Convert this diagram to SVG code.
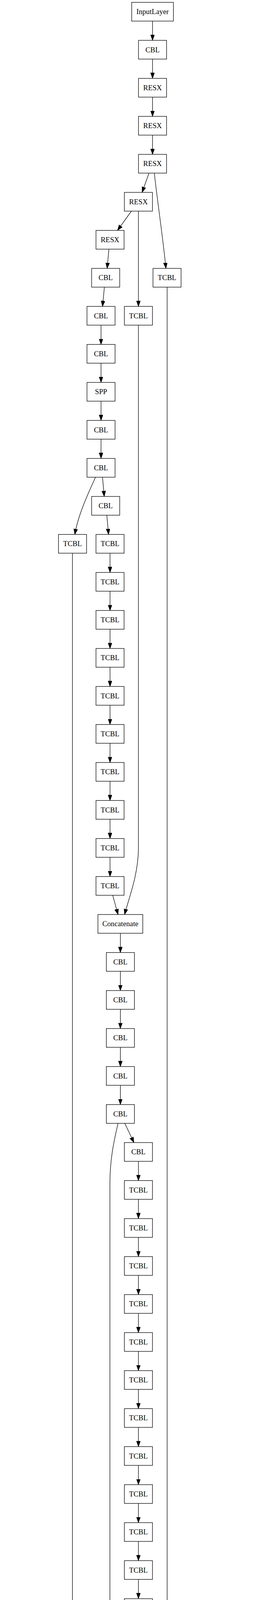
<svg xmlns="http://www.w3.org/2000/svg" width="695" height="7360" viewBox="0 0 695 7360">
<defs>
<style>
.n rect{fill:#fff;stroke:#000;stroke-width:1.3}
.n text{font-family:"Liberation Serif","Times New Roman",serif;font-size:18.7px;text-anchor:middle;fill:#000}
.e path{fill:none;stroke:#000;stroke-width:1.3;marker-end:url(#ah)}
</style>
<marker id="ah" markerUnits="userSpaceOnUse" markerWidth="15" markerHeight="11" refX="14.2" refY="5" orient="auto"><path d="M0,0 L14.2,5 L0,10 z" fill="#000" stroke="#000" stroke-width="1"/></marker>
</defs>
<rect width="695" height="7360" fill="#fff"/>
<g id="edges" class="e">
<path d="M391.2,54 L391.2,103.3"/>
<path d="M391.2,151.3 L391.2,200.6"/>
<path d="M391.2,248.6 L391.2,297.9"/>
<path d="M391.2,345.9 L391.2,395.2"/>
<path d="M382.1,443.2 L364.4,492.5"/>
<path d="M395.8,443.2 C403,510 418,610 425.5,687.1"/>
<path d="M336.9,540.5 L301.4,589.8"/>
<path d="M355,540.5 L355,784.4"/>
<path d="M279.3,637.8 L274.8,687.1"/>
<path d="M267.7,735.1 L262.9,784.4"/>
<path d="M259.1,832.4 L259.1,881.7"/>
<path d="M259.1,929.7 L259.1,979"/>
<path d="M259.1,1027 L259.1,1076.3"/>
<path d="M259.1,1124.3 L259.1,1173.6"/>
<path d="M262.9,1221.6 L267.3,1270.9"/>
<path d="M245.1,1221.6 C225,1265 200,1320 191.9,1368.2"/>
<path d="M273.9,1318.9 L278.4,1368.2"/>
<path d="M282.2,1416.2 L282.2,1465.5"/>
<path d="M282.2,1513.5 L282.2,1562.8"/>
<path d="M282.2,1610.8 L282.2,1660.1"/>
<path d="M282.2,1708.1 L282.2,1757.4"/>
<path d="M282.2,1805.4 L282.2,1854.7"/>
<path d="M282.2,1902.7 L282.2,1952"/>
<path d="M282.2,2000 L282.2,2049.3"/>
<path d="M282.2,2097.3 L282.2,2146.6"/>
<path d="M282.2,2194.6 L282.2,2243.9"/>
<path d="M289,2291.9 L302.7,2341.2"/>
<path d="M355,832.4 L355,2170 C355,2240 330,2300 319.5,2341.2"/>
<path d="M308.7,2389.2 L308.7,2438.5"/>
<path d="M308.7,2486.5 L308.7,2535.8"/>
<path d="M308.7,2583.8 L308.7,2633.1"/>
<path d="M308.7,2681.1 L308.7,2730.4"/>
<path d="M308.7,2778.4 L308.7,2827.7"/>
<path d="M320,2875.7 L343.5,2925"/>
<path d="M302.7,2875.7 C295,2910 281.9,2960 281.9,3030 L281.9,5500 C281.9,5560 296,5610 301.4,5649.4"/>
<path d="M355,2973 L355,3022.3"/>
<path d="M355,3070.3 L355,3119.6"/>
<path d="M355,3167.6 L355,3216.9"/>
<path d="M355,3264.9 L355,3314.2"/>
<path d="M355,3362.2 L355,3411.5"/>
<path d="M355,3459.5 L355,3508.8"/>
<path d="M355,3556.8 L355,3606.1"/>
<path d="M355,3654.1 L355,3703.4"/>
<path d="M355,3751.4 L355,3800.7"/>
<path d="M355,3848.7 L355,3898"/>
<path d="M355,3946 L355,3995.3"/>
<path d="M355,4043.3 L355,4092.6"/>
<path d="M355,4140.6 L355,4189.9"/>
<path d="M355,4237.9 L355,4287.2"/>
<path d="M355,4335.2 L355,4384.5"/>
<path d="M355,4432.5 L355,4481.8"/>
<path d="M355,4529.8 L355,4579.1"/>
<path d="M355,4627.1 L355,4676.4"/>
<path d="M355,4724.4 L355,4773.7"/>
<path d="M355,4821.7 L355,4871"/>
<path d="M367,4919 L390,4968.3"/>
<path d="M428.6,735.1 L428.6,4790 C428.6,4860 415,4925 407,4968.3"/>
<path d="M401.8,5016.3 L401.8,5065.6"/>
<path d="M401.8,5113.6 L401.8,5162.9"/>
<path d="M401.8,5210.9 L401.8,5260.2"/>
<path d="M401.8,5308.2 L401.8,5357.5"/>
<path d="M401.8,5405.5 L401.8,5454.8"/>
<path d="M390,5502.8 L368,5552.1"/>
<path d="M414.5,5502.8 L438.8,5552.1"/>
<path d="M342.6,5600.1 L319.1,5649.4"/>
<path d="M445.5,5600.1 L436.6,5649.4"/>
<path d="M470.7,5600.1 L509.8,5649.4"/>
<path d="M307.2,5697.4 L307.2,5746.7"/>
<path d="M428.2,5697.4 L425.5,5746.7"/>
<path d="M529.3,5697.4 L530.6,5746.7"/>
<path d="M307.2,5794.7 L307.2,5844"/>
<path d="M422.9,5794.7 L419.3,5844"/>
<path d="M531.2,5794.7 L531.2,5844"/>
<path d="M559.4,5794.7 L617,5844"/>
<path d="M307.2,5892 L307.2,5941.3"/>
<path d="M445.5,5892 L504,5941.3"/>
<path d="M531.2,5892 L531.2,5941.3"/>
<path d="M617,5892 L559.4,5941.3"/>
<path d="M307.2,5989.3 L307.2,6038.6"/>
<path d="M307.2,6086.6 L307.2,6135.9"/>
<path d="M295.2,6183.9 L271.3,6233.2"/>
<path d="M319.6,6183.9 L343.5,6233.2"/>
<path d="M246.9,6281.2 L223,6330.5"/>
<path d="M185.7,1416.2 L185.7,6165 C185.7,6230 200,6290 204.8,6330.5"/>
<path d="M350.2,6281.2 L339.1,6330.5"/>
<path d="M374.6,6281.2 L413.6,6330.5"/>
<path d="M211.2,6378.5 L211.2,6427.8"/>
<path d="M332,6378.5 L328.9,6427.8"/>
<path d="M433.5,6378.5 L434.4,6427.8"/>
<path d="M211.2,6475.8 L211.2,6525.1"/>
<path d="M326.2,6475.8 L323.6,6525.1"/>
<path d="M435.3,6475.8 L435.3,6525.1"/>
<path d="M463.7,6475.8 L520.8,6525.1"/>
<path d="M211.2,6573.1 L211.2,6622.4"/>
<path d="M351,6573.1 L406.9,6622.4"/>
<path d="M435.3,6573.1 L435.3,6622.4"/>
<path d="M520.4,6573.1 L463.2,6622.4"/>
<path d="M211.2,6670.4 L211.2,6719.7"/>
<path d="M211.2,6767.7 L211.2,6817"/>
<path d="M211.2,6865 L211.2,6914.3"/>
<path d="M198.6,6962.3 L176,7011.6"/>
<path d="M224.3,6962.3 L250.4,7011.6"/>
<path d="M163.1,7059.6 L163.1,7108.9"/>
<path d="M264.6,7059.6 L266,7108.9"/>
<path d="M134.8,7156.9 L78.5,7206.2"/>
<path d="M163.1,7156.9 L163.1,7206.2"/>
<path d="M270,7156.9 L274.4,7206.2"/>
<path d="M78.9,7254.2 L135.2,7303.5"/>
<path d="M163.1,7254.2 L163.1,7303.5"/>
<path d="M248.2,7254.2 L191.5,7303.5"/>
</g>
<g id="n0" class="n"><rect x="337.7" y="6" width="107" height="48"/><text x="391.2" y="36">InputLayer</text></g>
<g id="n1" class="n"><rect x="355.2" y="103.3" width="72" height="48"/><text x="391.2" y="133.5">CBL</text></g>
<g id="n2" class="n"><rect x="355.2" y="200.6" width="72" height="48"/><text x="391.2" y="230.8">RESX</text></g>
<g id="n3" class="n"><rect x="355.2" y="297.9" width="72" height="48"/><text x="391.2" y="328.1">RESX</text></g>
<g id="n4" class="n"><rect x="355.2" y="395.2" width="72" height="48"/><text x="391.2" y="425.4">RESX</text></g>
<g id="n5" class="n"><rect x="319" y="492.5" width="72" height="48"/><text x="355" y="522.7">RESX</text></g>
<g id="n6" class="n"><rect x="246.2" y="589.8" width="72" height="48"/><text x="282.2" y="620">RESX</text></g>
<g id="n7" class="n"><rect x="392.4" y="687.1" width="72" height="48"/><text x="428.4" y="717.3">TCBL</text></g>
<g id="n8" class="n"><rect x="235" y="687.1" width="72" height="48"/><text x="271" y="717.3">CBL</text></g>
<g id="n9" class="n"><rect x="319" y="784.4" width="72" height="48"/><text x="355" y="814.6">TCBL</text></g>
<g id="n10" class="n"><rect x="223.1" y="784.4" width="72" height="48"/><text x="259.1" y="814.6">CBL</text></g>
<g id="n11" class="n"><rect x="223.1" y="881.7" width="72" height="48"/><text x="259.1" y="911.9">CBL</text></g>
<g id="n12" class="n"><rect x="223.1" y="979" width="72" height="48"/><text x="259.1" y="1009.2">SPP</text></g>
<g id="n13" class="n"><rect x="223.1" y="1076.3" width="72" height="48"/><text x="259.1" y="1106.5">CBL</text></g>
<g id="n14" class="n"><rect x="223.1" y="1173.6" width="72" height="48"/><text x="259.1" y="1203.8">CBL</text></g>
<g id="n15" class="n"><rect x="235" y="1270.9" width="72" height="48"/><text x="271" y="1301.1">CBL</text></g>
<g id="n16" class="n"><rect x="150" y="1368.2" width="72" height="48"/><text x="186" y="1398.4">TCBL</text></g>
<g id="n17" class="n"><rect x="246.2" y="1368.2" width="72" height="48"/><text x="282.2" y="1398.4">TCBL</text></g>
<g id="n18" class="n"><rect x="246.2" y="1465.5" width="72" height="48"/><text x="282.2" y="1495.7">TCBL</text></g>
<g id="n19" class="n"><rect x="246.2" y="1562.8" width="72" height="48"/><text x="282.2" y="1593">TCBL</text></g>
<g id="n20" class="n"><rect x="246.2" y="1660.1" width="72" height="48"/><text x="282.2" y="1690.3">TCBL</text></g>
<g id="n21" class="n"><rect x="246.2" y="1757.4" width="72" height="48"/><text x="282.2" y="1787.6">TCBL</text></g>
<g id="n22" class="n"><rect x="246.2" y="1854.7" width="72" height="48"/><text x="282.2" y="1884.9">TCBL</text></g>
<g id="n23" class="n"><rect x="246.2" y="1952" width="72" height="48"/><text x="282.2" y="1982.2">TCBL</text></g>
<g id="n24" class="n"><rect x="246.2" y="2049.3" width="72" height="48"/><text x="282.2" y="2079.5">TCBL</text></g>
<g id="n25" class="n"><rect x="246.2" y="2146.6" width="72" height="48"/><text x="282.2" y="2176.8">TCBL</text></g>
<g id="n26" class="n"><rect x="246.2" y="2243.9" width="72" height="48"/><text x="282.2" y="2274.1">TCBL</text></g>
<g id="n27" class="n"><rect x="251.2" y="2341.2" width="115" height="48"/><text x="308.7" y="2371.4">Concatenate</text></g>
<g id="n28" class="n"><rect x="272.7" y="2438.5" width="72" height="48"/><text x="308.7" y="2468.7">CBL</text></g>
<g id="n29" class="n"><rect x="272.7" y="2535.8" width="72" height="48"/><text x="308.7" y="2566">CBL</text></g>
<g id="n30" class="n"><rect x="272.7" y="2633.1" width="72" height="48"/><text x="308.7" y="2663.3">CBL</text></g>
<g id="n31" class="n"><rect x="272.7" y="2730.4" width="72" height="48"/><text x="308.7" y="2760.6">CBL</text></g>
<g id="n32" class="n"><rect x="272.7" y="2827.7" width="72" height="48"/><text x="308.7" y="2857.9">CBL</text></g>
<g id="n33" class="n"><rect x="319" y="2925" width="72" height="48"/><text x="355" y="2955.2">CBL</text></g>
<g id="n34" class="n"><rect x="319" y="3022.3" width="72" height="48"/><text x="355" y="3052.5">TCBL</text></g>
<g id="n35" class="n"><rect x="319" y="3119.6" width="72" height="48"/><text x="355" y="3149.8">TCBL</text></g>
<g id="n36" class="n"><rect x="319" y="3216.9" width="72" height="48"/><text x="355" y="3247.1">TCBL</text></g>
<g id="n37" class="n"><rect x="319" y="3314.2" width="72" height="48"/><text x="355" y="3344.4">TCBL</text></g>
<g id="n38" class="n"><rect x="319" y="3411.5" width="72" height="48"/><text x="355" y="3441.7">TCBL</text></g>
<g id="n39" class="n"><rect x="319" y="3508.8" width="72" height="48"/><text x="355" y="3539">TCBL</text></g>
<g id="n40" class="n"><rect x="319" y="3606.1" width="72" height="48"/><text x="355" y="3636.3">TCBL</text></g>
<g id="n41" class="n"><rect x="319" y="3703.4" width="72" height="48"/><text x="355" y="3733.6">TCBL</text></g>
<g id="n42" class="n"><rect x="319" y="3800.7" width="72" height="48"/><text x="355" y="3830.9">TCBL</text></g>
<g id="n43" class="n"><rect x="319" y="3898" width="72" height="48"/><text x="355" y="3928.2">TCBL</text></g>
<g id="n44" class="n"><rect x="319" y="3995.3" width="72" height="48"/><text x="355" y="4025.5">TCBL</text></g>
<g id="n45" class="n"><rect x="319" y="4092.6" width="72" height="48"/><text x="355" y="4122.8">TCBL</text></g>
<g id="n46" class="n"><rect x="319" y="4189.9" width="72" height="48"/><text x="355" y="4220.1">TCBL</text></g>
<g id="n47" class="n"><rect x="319" y="4287.2" width="72" height="48"/><text x="355" y="4317.4">TCBL</text></g>
<g id="n48" class="n"><rect x="319" y="4384.5" width="72" height="48"/><text x="355" y="4414.7">TCBL</text></g>
<g id="n49" class="n"><rect x="319" y="4481.8" width="72" height="48"/><text x="355" y="4512">TCBL</text></g>
<g id="n50" class="n"><rect x="319" y="4579.1" width="72" height="48"/><text x="355" y="4609.3">TCBL</text></g>
<g id="n51" class="n"><rect x="319" y="4676.4" width="72" height="48"/><text x="355" y="4706.6">TCBL</text></g>
<g id="n52" class="n"><rect x="319" y="4773.7" width="72" height="48"/><text x="355" y="4803.9">TCBL</text></g>
<g id="n53" class="n"><rect x="319" y="4871" width="72" height="48"/><text x="355" y="4901.2">TCBL</text></g>
<g id="n54" class="n"><rect x="344.3" y="4968.3" width="115" height="48"/><text x="401.8" y="4998.5">Concatenate</text></g>
<g id="n55" class="n"><rect x="365.8" y="5065.6" width="72" height="48"/><text x="401.8" y="5095.8">CBL</text></g>
<g id="n56" class="n"><rect x="365.8" y="5162.9" width="72" height="48"/><text x="401.8" y="5193.1">CBL</text></g>
<g id="n57" class="n"><rect x="365.8" y="5260.2" width="72" height="48"/><text x="401.8" y="5290.4">CBL</text></g>
<g id="n58" class="n"><rect x="365.8" y="5357.5" width="72" height="48"/><text x="401.8" y="5387.7">CBL</text></g>
<g id="n59" class="n"><rect x="365.8" y="5454.8" width="72" height="48"/><text x="401.8" y="5485">CBL</text></g>
<g id="n60" class="n"><rect x="319" y="5552.1" width="72" height="48"/><text x="355" y="5582.3">CBL</text></g>
<g id="n61" class="n"><rect x="415.2" y="5552.1" width="72" height="48"/><text x="451.2" y="5582.3">CBL</text></g>
<g id="n62" class="n"><rect x="249.5" y="5649.4" width="115" height="48"/><text x="307" y="5679.6">Concatenate</text></g>
<g id="n63" class="n"><rect x="394.2" y="5649.4" width="72" height="48"/><text x="430.2" y="5679.6">CBL</text></g>
<g id="n64" class="n"><rect x="492.6" y="5649.4" width="72" height="48"/><text x="528.6" y="5679.6">CBL</text></g>
<g id="n65" class="n"><rect x="271.2" y="5746.7" width="72" height="48"/><text x="307.2" y="5776.9">CBL</text></g>
<g id="n66" class="n"><rect x="388.6" y="5746.7" width="72" height="48"/><text x="424.6" y="5776.9">CBL</text></g>
<g id="n67" class="n"><rect x="495" y="5746.7" width="72" height="48"/><text x="531" y="5776.9">CBL</text></g>
<g id="n68" class="n"><rect x="271.2" y="5844" width="72" height="48"/><text x="307.2" y="5874.2">CBL</text></g>
<g id="n69" class="n"><rect x="373.25" y="5844" width="89.5" height="48"/><text x="418" y="5874.2">Conv2D</text></g>
<g id="n70" class="n"><rect x="486.45" y="5844" width="89.5" height="48"/><text x="531.2" y="5874.2">Conv2D</text></g>
<g id="n71" class="n"><rect x="599.75" y="5844" width="89.5" height="48"/><text x="644.5" y="5874.2">Conv2D</text></g>
<g id="n72" class="n"><rect x="271.2" y="5941.3" width="72" height="48"/><text x="307.2" y="5971.5">CBL</text></g>
<g id="n73" class="n"><rect x="473.7" y="5941.3" width="115" height="48"/><text x="531.2" y="5971.5">Concatenate</text></g>
<g id="n74" class="n"><rect x="271.2" y="6038.6" width="72" height="48"/><text x="307.2" y="6068.8">CBL</text></g>
<g id="n75" class="n"><rect x="271.2" y="6135.9" width="72" height="48"/><text x="307.2" y="6166.1">CBL</text></g>
<g id="n76" class="n"><rect x="223.1" y="6233.2" width="72" height="48"/><text x="259.1" y="6263.4">CBL</text></g>
<g id="n77" class="n"><rect x="319" y="6233.2" width="72" height="48"/><text x="355" y="6263.4">CBL</text></g>
<g id="n78" class="n"><rect x="153.5" y="6330.5" width="115" height="48"/><text x="211" y="6360.7">Concatenate</text></g>
<g id="n79" class="n"><rect x="298" y="6330.5" width="72" height="48"/><text x="334" y="6360.7">CBL</text></g>
<g id="n80" class="n"><rect x="396.4" y="6330.5" width="72" height="48"/><text x="432.4" y="6360.7">CBL</text></g>
<g id="n81" class="n"><rect x="175.2" y="6427.8" width="72" height="48"/><text x="211.2" y="6458">CBL</text></g>
<g id="n82" class="n"><rect x="291.1" y="6427.8" width="72" height="48"/><text x="327.1" y="6458">CBL</text></g>
<g id="n83" class="n"><rect x="399.1" y="6427.8" width="72" height="48"/><text x="435.1" y="6458">CBL</text></g>
<g id="n84" class="n"><rect x="175.2" y="6525.1" width="72" height="48"/><text x="211.2" y="6555.3">CBL</text></g>
<g id="n85" class="n"><rect x="277.05" y="6525.1" width="89.5" height="48"/><text x="321.8" y="6555.3">Conv2D</text></g>
<g id="n86" class="n"><rect x="390.55" y="6525.1" width="89.5" height="48"/><text x="435.3" y="6555.3">Conv2D</text></g>
<g id="n87" class="n"><rect x="503.75" y="6525.1" width="89.5" height="48"/><text x="548.5" y="6555.3">Conv2D</text></g>
<g id="n88" class="n"><rect x="175.2" y="6622.4" width="72" height="48"/><text x="211.2" y="6652.6">CBL</text></g>
<g id="n89" class="n"><rect x="377.6" y="6622.4" width="115" height="48"/><text x="435.1" y="6652.6">Concatenate</text></g>
<g id="n90" class="n"><rect x="175.2" y="6719.7" width="72" height="48"/><text x="211.2" y="6749.9">CBL</text></g>
<g id="n91" class="n"><rect x="175.2" y="6817" width="72" height="48"/><text x="211.2" y="6847.2">CBL</text></g>
<g id="n92" class="n"><rect x="175.2" y="6914.3" width="72" height="48"/><text x="211.2" y="6944.5">CBL</text></g>
<g id="n93" class="n"><rect x="127.1" y="7011.6" width="72" height="48"/><text x="163.1" y="7041.8">CBL</text></g>
<g id="n94" class="n"><rect x="227.1" y="7011.6" width="72" height="48"/><text x="263.1" y="7041.8">CBL</text></g>
<g id="n95" class="n"><rect x="127.1" y="7108.9" width="72" height="48"/><text x="163.1" y="7139.1">CBL</text></g>
<g id="n96" class="n"><rect x="231.1" y="7108.9" width="72" height="48"/><text x="267.1" y="7139.1">CBL</text></g>
<g id="n97" class="n"><rect x="4.95" y="7206.2" width="89.5" height="48"/><text x="49.7" y="7236.4">Conv2D</text></g>
<g id="n98" class="n"><rect x="118.35" y="7206.2" width="89.5" height="48"/><text x="163.1" y="7236.4">Conv2D</text></g>
<g id="n99" class="n"><rect x="231.65" y="7206.2" width="89.5" height="48"/><text x="276.4" y="7236.4">Conv2D</text></g>
<g id="n100" class="n"><rect x="105.6" y="7303.5" width="115" height="48"/><text x="163.1" y="7333.7">Concatenate</text></g>
</svg>
